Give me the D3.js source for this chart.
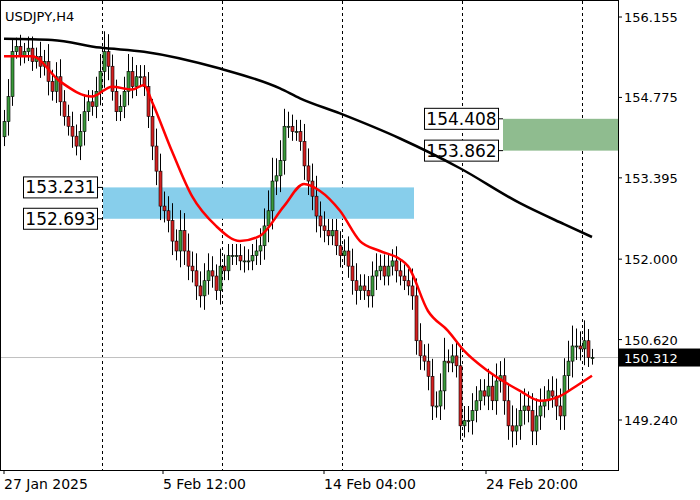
<!DOCTYPE html>
<html><head><meta charset="utf-8">
<script src="https://cdn.jsdelivr.net/npm/d3@7"></script>
<style>body{margin:0;background:#fff}text{font-family:Tahoma,"DejaVu Sans",sans-serif;font-size:13px}</style>
</head><body><svg id="svg1" width="700" height="500"></svg>
<script>
// USDJPY H4 candles, closes
var closes = [154.36,154.79,155.56,155.65,155.48,155.56,155.62,155.39,155.48,155.31,155.39,155.05,154.88,155.13,154.70,154.45,154.28,154.11,153.94,154.19,154.53,154.70,154.62,154.88,155.22,155.56,155.31,154.88,154.53,154.62,154.88,155.22,154.96,155.13,155.13,154.96,154.45,153.94,153.51,152.91,152.83,152.66,152.31,152.14,152.49,152.14,151.88,151.80,151.54,151.37,151.63,151.80,151.71,151.46,151.88,151.80,152.06,152.06,152.06,151.97,151.97,151.97,152.06,152.14,152.23,152.57,152.83,153.34,153.43,153.69,154.28,154.28,154.19,154.19,154.02,153.60,153.34,153.08,152.74,152.57,152.49,152.40,152.49,152.23,152.06,152.14,151.88,151.63,151.46,151.54,151.46,151.37,151.71,151.80,151.88,151.71,151.88,151.97,151.80,151.71,151.63,151.54,151.37,150.60,150.34,150.25,149.99,149.48,149.48,149.74,150.25,150.22,150.34,150.17,149.14,149.23,149.23,149.40,149.57,149.74,149.65,149.82,149.57,149.91,150.00,149.57,149.14,149.05,149.14,149.40,149.48,149.40,149.05,149.31,149.48,149.57,149.74,149.65,149.48,149.31,150.00,150.25,150.51,150.51,150.46,150.60,150.31,150.31];
var wicks = [0.2,0.3,0.2,0.15,0.2,0.15,0.2,0.2,0.15,0.25,0.2,0.3,0.2,0.25,0.3,0.2,0.2,0.25,0.2,0.3,0.3,0.2,0.2,0.25,0.3,0.35,0.3,0.2,0.2,0.2,0.25,0.3,0.25,0.2,0.2,0.2,0.25,0.3,0.3,0.3,0.25,0.25,0.3,0.2,0.35,0.3,0.3,0.25,0.3,0.25,0.3,0.3,0.25,0.2,0.3,0.2,0.2,0.2,0.2,0.2,0.25,0.2,0.2,0.2,0.3,0.3,0.35,0.4,0.3,0.35,0.3,0.25,0.2,0.2,0.2,0.3,0.3,0.3,0.35,0.25,0.25,0.2,0.2,0.2,0.25,0.2,0.25,0.3,0.3,0.2,0.2,0.25,0.25,0.3,0.2,0.2,0.2,0.2,0.25,0.2,0.2,0.2,0.3,0.3,0.3,0.2,0.3,0.3,0.25,0.3,0.4,0.2,0.2,0.25,0.3,0.25,0.25,0.3,0.25,0.2,0.2,0.3,0.2,0.3,0.25,0.3,0.3,0.35,0.3,0.3,0.3,0.25,0.3,0.3,0.3,0.25,0.2,0.25,0.3,0.3,0.3,0.35,0.35,0.3,0.25,0.35,0.2,0.15];
// moving averages: [candle index, price]
var fastMA = [[0,155.48],[7,155.48],[14,155.05],[22,154.79],[27,154.96],[32,154.91],[35,154.99],[37,154.70],[42,153.85],[47,153.08],[53,152.57],[59,152.31],[64,152.40],[70,152.91],[75,153.29],[79,153.17],[84,152.83],[89,152.31],[94,152.14],[99,152.00],[101,151.88],[106,151.11],[111,150.77],[115,150.43],[121,150.08],[129,149.74],[134,149.57],[139,149.65],[143,149.82],[147,150.00]];
var slowMA = [[0,155.78],[12,155.76],[24,155.63],[35,155.56],[54,155.27],[69,154.93],[74,154.76],[84,154.50],[99,154.07],[114,153.56],[129,152.96],[140,152.60],[147,152.38]];
var priceTicks = [156.155,154.775,153.395,152.000,150.620,149.240];
var timeLabels = [[0,"27 Jan 2025"],[39.75,"5 Feb 12:00"],[80,"14 Feb 04:00"],[120.5,"24 Feb 20:00"]];
var gridIdx = [25,55,85,115,145];
var zones = [{from:25,to:102.5,hi:153.231,lo:152.693,color:"#87ceeb",labelAt:5},
             {from:125,to:155,hi:154.408,lo:153.862,color:"#8fbc8f",labelAt:105.25}];
var lastPrice = 150.312;

var svg = d3.select("#svg1");
var W = 618, H = 470;
var x = d3.scaleLinear().domain([0,147]).range([4,592]);
var y = d3.scaleLinear().domain([149.240,156.155]).range([420,17]);

svg.append("rect").attr("x",0.5).attr("y",0.5).attr("width",W).attr("height",H)
    .attr("fill","#fff").attr("stroke","#000");

gridIdx.forEach(function(i) {
    svg.append("line").attr("x1",x(i)-1.5).attr("x2",x(i)-1.5).attr("y1",1).attr("y2",H)
        .attr("stroke","#000").attr("stroke-dasharray","3,3");
});

svg.append("line").attr("x1",1).attr("x2",W).attr("y1",y(lastPrice)).attr("y2",y(lastPrice)).attr("stroke","#c0c0c0");

zones.forEach(function(z) {
    var x0 = x(z.from)-1, x1 = Math.min(x(z.to), W);
    svg.append("rect").attr("x",x0).attr("y",y(z.hi)).attr("width",x1-x0).attr("height",y(z.lo)-y(z.hi)).attr("fill",z.color);
    [z.hi,z.lo].forEach(function(p) {
        var lx = x(z.labelAt);
        svg.append("line").attr("x1",lx+73).attr("x2",x0).attr("y1",y(p)).attr("y2",y(p)).attr("stroke","#000");
        svg.append("rect").attr("x",lx-0.5).attr("y",y(p)-10.5).attr("width",74).attr("height",21).attr("fill","#fff").attr("stroke","#000");
        svg.append("text").attr("x",lx+36.5).attr("y",y(p)+6).attr("text-anchor","middle").style("font-size","17px").text(p.toFixed(3));
    });
});

var candles = closes.map(function(c,i) {
    var o = i == 0 ? 154.10 : closes[i-1];
    return {i:i, o:o, c:c, h:Math.max(o,c)+wicks[i], l:Math.min(o,c)-wicks[i]*0.8};
});

var g = svg.append("g").selectAll("g").data(candles).enter().append("g");
g.append("line").attr("x1",function(d){return x(d.i)+0.5;}).attr("x2",function(d){return x(d.i)+0.5;})
    .attr("y1",function(d){return y(d.h);}).attr("y2",function(d){return y(d.l);}).attr("stroke","#000");
g.append("rect").attr("x",function(d){return x(d.i)-1;}).attr("width",3)
    .attr("y",function(d){return y(Math.max(d.o,d.c));})
    .attr("height",function(d){return Math.max(1,Math.abs(y(d.o)-y(d.c)));})
    .attr("fill",function(d){return d.c >= d.o ? "#3a9a3a" : "#d42020";})
    .attr("stroke","#000").attr("stroke-width",0.6);

var line = d3.line().x(function(d){return x(d[0]);}).y(function(d){return y(d[1]);}).curve(d3.curveMonotoneX);
svg.append("path").attr("d",line(slowMA)).attr("fill","none").attr("stroke","#000").attr("stroke-width",2.5);
svg.append("path").attr("d",line(fastMA)).attr("fill","none").attr("stroke","#f00").attr("stroke-width",2.5);

// right axis
priceTicks.forEach(function(p) {
    svg.append("line").attr("x1",W).attr("x2",W+4).attr("y1",y(p)).attr("y2",y(p)).attr("stroke","#000");
    svg.append("text").attr("x",624).attr("y",y(p)+5).text(p.toFixed(3));
});
svg.append("rect").attr("x",W+1).attr("y",y(lastPrice)-9).attr("width",81).attr("height",18).attr("fill","#000");
svg.append("text").attr("x",624).attr("y",y(lastPrice)+5).attr("fill","#fff").text(lastPrice.toFixed(3));

// bottom axis
timeLabels.forEach(function(t) {
    svg.append("line").attr("x1",x(t[0])).attr("x2",x(t[0])).attr("y1",H).attr("y2",H+4).attr("stroke","#000");
    svg.append("text").attr("x",x(t[0])).attr("y",489).style("font-size","14px").text(t[1]);
});

svg.append("text").attr("x",5).attr("y",21).text("USDJPY,H4");
</script></body></html>
